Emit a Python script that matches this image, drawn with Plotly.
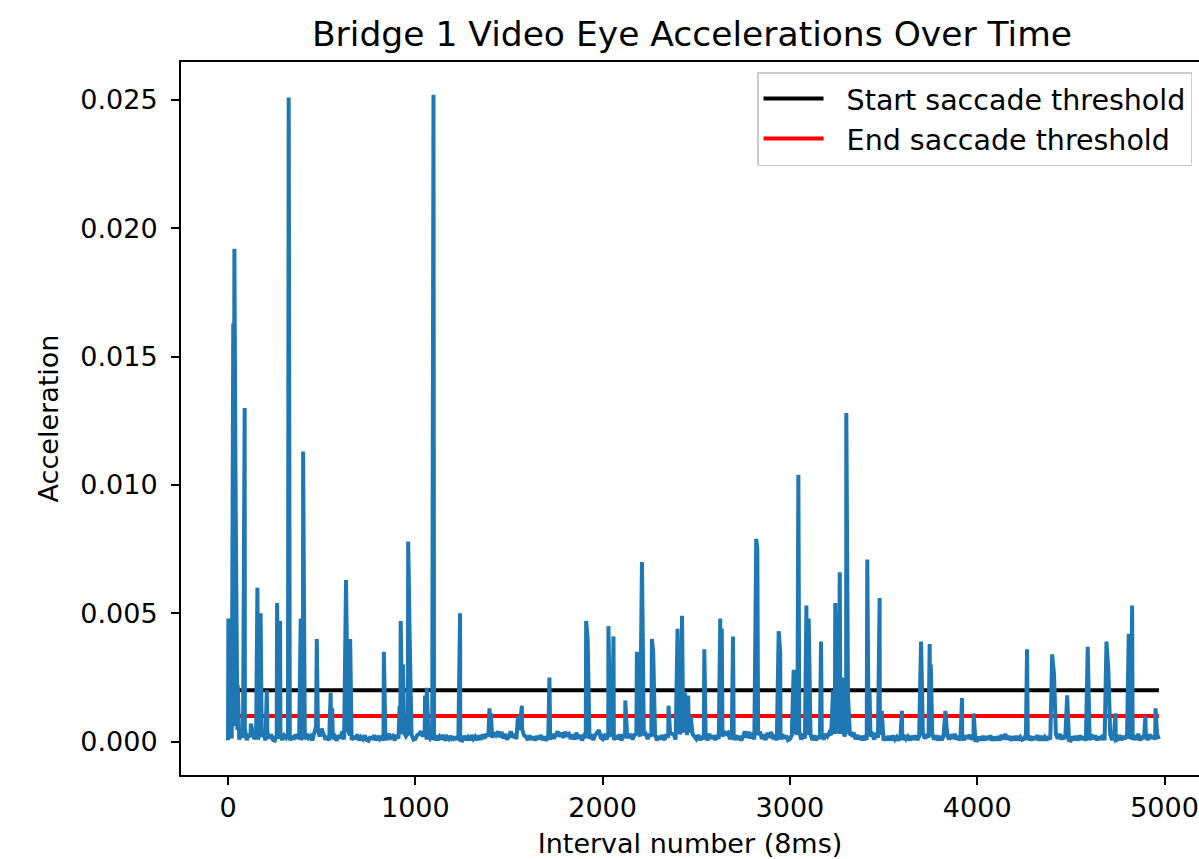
import plotly.graph_objects as go

# ---------------- data ----------------
# Baseline noise samples every 10 intervals (index 0..4970), units of 1e-5
baseline_step = 10
baseline_1e5 = [
    5,30,12,60,20,45,8,35,15,50,6,28,18,40,10,25,8,35,20,30,5,38,12,28,7,
    4,26,10,32,6,24,15,30,5,22,8,28,12,34,6,25,9,30,14,22,4,38,60,45,20,
    50,30,8,22,5,26,10,20,4,25,12,40,8,30,45,25,6,22,10,28,5,18,9,24,6,
    3,20,8,25,5,22,10,18,4,24,7,30,15,22,5,26,12,28,40,35,20,30,15,26,8,
    10,25,30,40,20,35,8,28,12,22,5,24,6,20,9,26,4,18,10,22,5,20,8,24,6,
    4,22,7,18,5,25,10,20,6,24,8,28,12,30,20,40,15,35,25,40,18,38,12,30,8,
    20,40,15,30,10,45,30,50,25,20,6,24,8,20,5,22,10,25,6,20,4,24,8,30,12,
    30,40,20,35,15,38,25,30,10,28,8,35,12,26,5,22,15,30,10,28,6,25,35,45,15,
    10,30,8,25,40,20,6,24,10,28,5,22,20,35,15,30,8,26,30,40,20,35,25,30,10,
    30,20,8,26,5,22,10,25,6,28,15,35,30,28,8,24,30,40,35,45,25,35,40,30,20,
    10,26,6,22,8,28,5,30,12,24,6,25,10,35,20,40,30,35,10,28,6,25,8,22,5,
    20,40,15,38,12,35,8,30,25,40,10,28,6,35,15,38,10,26,5,22,8,28,12,24,6,
    10,25,20,35,30,40,8,30,12,26,15,28,6,24,5,22,10,25,8,30,20,35,25,40,30,
    35,45,30,40,20,38,40,30,25,35,10,26,8,22,5,24,6,30,20,28,8,35,15,26,6,
    4,20,6,22,5,24,8,18,4,22,6,25,10,20,5,22,8,24,6,20,10,30,12,28,15,
    20,30,8,24,5,22,6,20,4,25,8,28,12,30,8,22,5,20,6,24,12,26,8,22,5,
    4,18,6,22,5,20,8,24,4,18,6,20,5,26,10,30,8,22,4,20,6,22,5,18,7,
    10,28,6,22,5,20,8,25,4,22,6,18,5,20,8,24,6,28,12,30,8,25,10,22,6,
    4,20,6,22,5,24,8,20,4,22,6,28,10,24,5,20,8,26,6,22,10,28,6,24,5,
    8,25,6,22,10,30,12,28,6,24,8,30,5,22,10,26,6,28,12,24,8,30,10,
]

# Spike samples (interval index, acceleration)
spike_idx = [2, 12, 28, 34, 40, 52, 89, 122, 157, 174, 207, 262, 278, 324,
             388, 401, 474, 548, 556, 630, 652, 832, 916, 922, 934, 962, 970,
             1052, 1061, 1097, 1239, 1396, 1404, 1548, 1560, 1569, 1716,
             1912, 1920, 2031, 2058, 2121, 2183, 2210, 2263, 2270, 2352,
             2400, 2424, 2440, 2457, 2470, 2543, 2628, 2636, 2696, 2820,
             2826, 2940, 2948, 3020, 3045, 3088, 3100, 3166, 3230, 3242,
             3266, 3280, 3301, 3310, 3413, 3425, 3479, 3490, 3598, 3700,
             3746, 3752, 3830, 3919, 3981, 4266, 4400, 4410, 4480, 4590,
             4690, 4700, 4738, 4809, 4827, 4898, 4952]
spike_val = [0.0048, 0.0013, 0.0163, 0.0192, 0.0103, 0.0022, 0.0130, 0.0007,
             0.0060, 0.0050, 0.0020, 0.0054, 0.0047, 0.0251, 0.0048, 0.0113,
             0.0040, 0.0019, 0.0013, 0.0063, 0.0040, 0.0035, 0.0014, 0.0047,
             0.0030, 0.0078, 0.0040, 0.0018, 0.0021, 0.0252, 0.0050, 0.0013,
             0.0011, 0.0010, 0.0008, 0.0014, 0.0025, 0.0047, 0.0040, 0.0045,
             0.0041, 0.0016, 0.0035, 0.0070, 0.0040, 0.0035, 0.0014, 0.0044,
             0.0049, 0.0019, 0.0018, 0.0010, 0.0036, 0.0048, 0.0044, 0.0041,
             0.0079, 0.0075, 0.0043, 0.0035, 0.0028, 0.0104, 0.0053, 0.0048,
             0.0039, 0.0020, 0.0054, 0.0066, 0.0025, 0.0128, 0.0018, 0.0071,
             0.0020, 0.0056, 0.0012, 0.0012, 0.0039, 0.0038, 0.0030, 0.0012,
             0.0017, 0.0011, 0.0036, 0.0034, 0.0026, 0.0018, 0.0037, 0.0039,
             0.0028, 0.0011, 0.0042, 0.0053, 0.0010, 0.0013]

start_threshold = 0.002
end_threshold = 0.001

x_ticks = [0, 1000, 2000, 3000, 4000, 5000]
y_ticks = [0.000, 0.005, 0.010, 0.015, 0.020, 0.025]

# ---------------- assemble series ----------------
samples = {i * baseline_step: v * 1e-5 for i, v in enumerate(baseline_1e5)}
for i, v in zip(spike_idx, spike_val):
    samples[i] = v
xs = sorted(samples)
ys = [samples[i] for i in xs]

FONT = "DejaVu Sans"
NB = "\u00a0\u00a0"
fig = go.Figure()
fig.add_trace(go.Scatter(x=[xs[0], xs[-1]], y=[start_threshold] * 2, mode="lines",
                         line=dict(color="black", width=4),
                         name=NB + "Start saccade threshold"))
fig.add_trace(go.Scatter(x=[xs[0], xs[-1]], y=[end_threshold] * 2, mode="lines",
                         line=dict(color="red", width=4),
                         name=NB + "End saccade threshold"))
fig.add_trace(go.Scatter(x=xs, y=ys, mode="lines",
                         line=dict(color="#1f77b4", width=4),
                         showlegend=False, name="Acceleration"))

axis_common = dict(showline=True, linecolor="black", linewidth=2,
                   ticks="outside", ticklen=8, tickwidth=2, tickcolor="black",
                   showgrid=False, zeroline=False, automargin=False,
                   tickfont=dict(family=FONT, size=27, color="black"))

fig.update_layout(
    width=1199, height=859,
    margin=dict(l=181, r=0, t=62, b=84),
    paper_bgcolor="white", plot_bgcolor="white",
    font=dict(family=FONT, size=27, color="black"),
    title=dict(text="Bridge 1 Video Eye Accelerations Over Time",
               font=dict(family=FONT, size=34.5, color="black"),
               x=(692 / 1199), xanchor="center", y=1 - 34 / 859, yanchor="middle"),
    xaxis=dict(axis_common, range=[-251, 5184], tickvals=x_ticks,
               ticktext=[str(t) for t in x_ticks], mirror=True,
               ticklabelstandoff=0,
               title=dict(text="Interval number (8ms)", standoff=16,
                          font=dict(family=FONT, size=27, color="black"))),
    yaxis=dict(axis_common, range=[-0.0013, 0.02648], tickvals=y_ticks,
               ticktext=[f"{t:.3f}" for t in y_ticks],
               ticklabelstandoff=8,
               title=dict(text="Acceleration", standoff=14,
                          font=dict(family=FONT, size=27, color="black"))),
    legend=dict(x=(1192 - 181) / 1018, xanchor="right", y=(775 - 72) / 713, yanchor="top",
                bgcolor="rgba(255,255,255,0.8)", bordercolor="#cccccc", borderwidth=1.5,
                font=dict(family=FONT, size=28.5, color="black"), itemwidth=60,
                tracegroupgap=0),
)

fig.write_html("out.html", config={"displayModeBar": False},
               post_script="document.body.style.margin='0px';"
                           "document.body.style.overflow='hidden';")
